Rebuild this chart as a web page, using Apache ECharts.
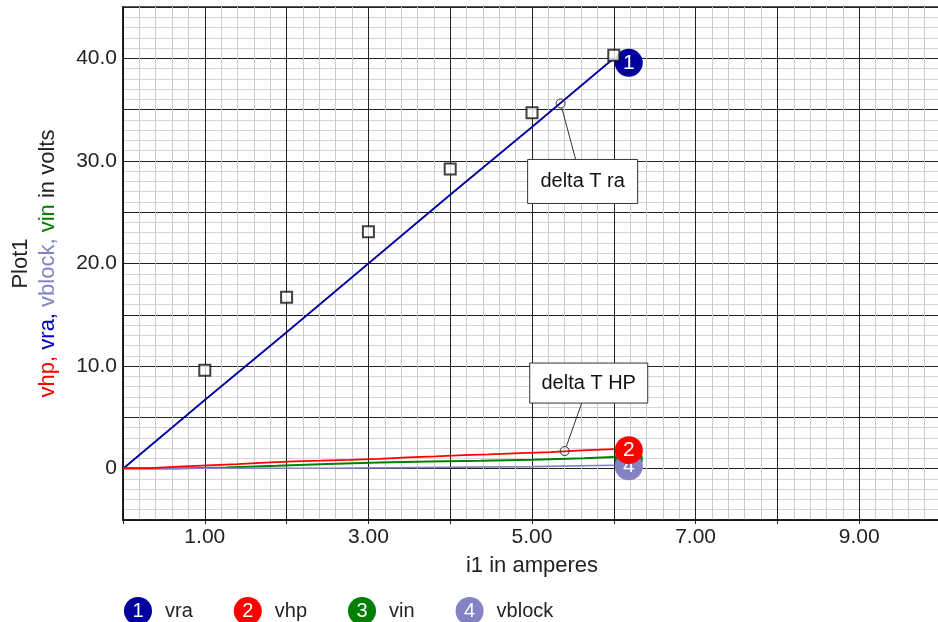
<!DOCTYPE html>
<html>
<head>
<meta charset="utf-8">
<script src="https://cdn.jsdelivr.net/npm/echarts@6/dist/echarts.min.js"></script>
<style>
html,body{margin:0;padding:0;background:#fff;}
#plot1{width:938px;height:622px;}
</style>
</head>
<body>
<div id="plot1"></div>
<script>
// i1 in amperes -> volts
var vraI = [0, 1, 2, 3, 4, 5, 6];
var vraV = [0, 6.7, 13.3, 20.0, 26.7, 33.3, 40.0];

var vhpI = [0, 0.34, 0.68, 1.03, 1.40, 1.74, 2.09, 2.42, 2.78, 3.13, 3.48, 3.82, 4.17, 4.47, 4.86, 5.23, 5.61, 6.0];
var vhpV = [0.05, 0.2, 0.32, 0.45, 0.6, 0.72, 0.78, 0.86, 0.95, 1.1, 1.2, 1.32, 1.4, 1.52, 1.62, 1.78, 1.9, 1.9];

var vinI = [0, 0.63, 1.26, 1.88, 2.50, 3.13, 3.74, 4.37, 5.0, 5.64, 6.0];
var vinV = [0.02, 0.12, 0.28, 0.46, 0.6, 0.7, 0.78, 0.88, 1.02, 1.14, 1.14];

var vblockI = [0, 2.50, 5.0, 6.0];
var vblockV = [0.05, 0.2, 0.33, 0.33];

// measured points (squares)
var measI = [1, 2, 3, 4, 5, 6];
var measV = [9.6, 16.7, 23.1, 29.2, 34.7, 40.3];

var legendNames = ['vra', 'vhp', 'vin', 'vblock'];
var badgeNums = ['1', '2', '3', '4'];
var colors = {vra: '#00009c', vhp: '#ff0000', vin: '#008000', vblock: '#8282c4'};
var badgeShift = {vra: 4.5, vhp: 1, vin: 2, vblock: 1};

var annoText = ['delta T ra', 'delta T HP'];
var annoAt = [[5.35, 35.6], [5.40, 1.72]];

var font = "'Liberation Sans', Arial, sans-serif";

function pairs(xs, ys){
    var out = [];
    for(var i=0;i<xs.length;i++){ out.push([xs[i], ys[i]]); }
    return out;
}

function badge(name){
    var i = legendNames.indexOf(name);
    return {
        show: true,
        distance: 1,
        offset: [0, badgeShift[name]],
        formatter: '{c|' + badgeNums[i] + '}',
        rich: {
            c: {
                width: 28, height: 28, lineHeight: 28, align: 'center',
                backgroundColor: colors[name], borderRadius: 14,
                color: '#fff', fontSize: 21, fontFamily: font
            }
        }
    };
}

function lineSeries(name, xs, ys, step, width){
    return {
        name: name,
        type: 'line',
        step: step,
        data: pairs(xs, ys),
        symbol: 'none',
        lineStyle: {color: colors[name], width: width},
        itemStyle: {color: colors[name]},
        endLabel: badge(name),
        z: 3
    };
}

var legendRich = {t: {padding: [0, 0, 0, 13], fontSize: 20, color: '#222', fontFamily: font}};
for(var k=0;k<legendNames.length;k++){
    legendRich['b' + k] = {
        width: 28, height: 28, lineHeight: 28, align: 'center',
        backgroundColor: colors[legendNames[k]], borderRadius: 14,
        color: '#fff', fontSize: 20, fontFamily: font
    };
}

var chart = echarts.init(document.getElementById('plot1'));

var option = {
    animation: false,
    backgroundColor: '#fff',
    grid: {
        left: 123, width: 818, top: 7, bottom: 102,
        outerBoundsMode: 'none', containLabel: false,
        show: true, borderColor: '#222', borderWidth: 1.5
    },
    legend: {
        data: legendNames,
        left: 114, top: 592,
        icon: 'rect', itemWidth: 0, itemHeight: 28, itemGap: 36,
        selectedMode: false,
        formatter: function(name){
            var i = legendNames.indexOf(name);
            return '{b' + i + '|' + badgeNums[i] + '}{t|' + name + '}';
        },
        textStyle: {fontSize: 20, color: '#222', fontFamily: font, rich: legendRich}
    },
    xAxis: {
        type: 'value', min: 0, max: 10, interval: 1,
        name: 'i1 in amperes', nameLocation: 'middle', nameGap: 35,
        nameTextStyle: {fontSize: 22, color: '#222', fontFamily: font},
        axisLine: {onZero: false, lineStyle: {color: '#111', width: 1.5}},
        axisTick: {show: true, length: 4, lineStyle: {color: '#222'}},
        axisLabel: {
            margin: 7, fontSize: 21, color: '#222', fontFamily: font,
            formatter: function(v){ return Math.round(v) % 2 === 1 ? v.toFixed(2) : ''; }
        },
        splitLine: {show: true, lineStyle: {color: '#222', width: 1}},
        minorTick: {show: false, splitNumber: 5},
        minorSplitLine: {show: true, lineStyle: {color: '#cccccc', width: 1}}
    },
    yAxis: {
        type: 'value', min: -5, max: 45, interval: 5,
        name: '{p|Plot1}\n{r|vhp, }{b|vra, }{l|vblock, }{g|vin}{k| in volts}',
        nameLocation: 'middle', nameRotate: 90, nameGap: 62,
        nameTextStyle: {
            fontSize: 22, fontFamily: font,
            rich: {
                p: {fontSize: 22, color: '#222', lineHeight: 27, fontFamily: font},
                r: {fontSize: 22, color: '#ff0000', lineHeight: 27, fontFamily: font},
                b: {fontSize: 22, color: '#0000c0', lineHeight: 27, fontFamily: font},
                l: {fontSize: 22, color: '#8282c4', lineHeight: 27, fontFamily: font},
                g: {fontSize: 22, color: '#008000', lineHeight: 27, fontFamily: font},
                k: {fontSize: 22, color: '#222', lineHeight: 27, fontFamily: font}
            }
        },
        axisLine: {show: true, lineStyle: {color: '#111', width: 1.5}},
        axisTick: {show: false},
        axisLabel: {
            margin: 6, fontSize: 21, color: '#222', fontFamily: font,
            formatter: function(v){
                if(v === 0) return '0';
                return (v > 0 && v % 10 === 0) ? v.toFixed(1) : '';
            }
        },
        splitLine: {show: true, lineStyle: {color: '#222', width: 1}},
        minorTick: {show: false, splitNumber: 5},
        minorSplitLine: {show: true, lineStyle: {color: '#d4d4d4', width: 1}}
    },
    series: [
        lineSeries('vra', vraI, vraV, false, 1.8),
        lineSeries('vin', vinI, vinV, 'end', 2),
        lineSeries('vblock', vblockI, vblockV, 'end', 1.6),
        lineSeries('vhp', vhpI, vhpV, 'end', 1.7),
        {
            name: 'measured',
            type: 'scatter',
            data: pairs(measI, measV),
            symbol: 'rect',
            symbolSize: 11,
            itemStyle: {color: '#fff', borderColor: '#111', borderWidth: 2},
            z: 5
        }
    ]
};
chart.setOption(option);

// callout boxes, placed relative to their anchor on the curve
var boxes = [
    {dx: -33, dy: 56, w: 110, h: 44, lx: 15, top: true},
    {dx: -35, dy: -88, w: 118, h: 40, lx: 17, top: false}
];
var graphics = [];
for(var a=0;a<annoText.length;a++){
    var p = chart.convertToPixel({gridIndex: 0}, annoAt[a]);
    var b = boxes[a];
    var bx = p[0] + b.dx, by = p[1] + b.dy;
    var ex = p[0] + b.lx, ey = b.top ? by : by + b.h;
    var vx = ex - p[0], vy = ey - p[1];
    var len = Math.sqrt(vx*vx + vy*vy);
    var r = 4.5;
    graphics.push({
        type: 'line', z: 10,
        shape: {x1: p[0] + vx/len*r, y1: p[1] + vy/len*r, x2: ex, y2: ey},
        style: {stroke: '#333', lineWidth: 1}
    });
    graphics.push({
        type: 'circle', z: 10,
        shape: {cx: p[0], cy: p[1], r: r},
        style: {fill: 'rgba(255,255,255,0)', stroke: '#333', lineWidth: 1}
    });
    graphics.push({
        type: 'rect', z: 10,
        shape: {x: bx, y: by, width: b.w, height: b.h},
        style: {fill: '#fff', stroke: '#333', lineWidth: 1}
    });
    graphics.push({
        type: 'text', z: 11,
        x: bx + b.w / 2, y: by + b.h / 2,
        style: {text: annoText[a], fill: '#111', font: '20px ' + font, align: 'center', verticalAlign: 'middle'}
    });
}
chart.setOption({graphic: graphics});
</script>
</body>
</html>
